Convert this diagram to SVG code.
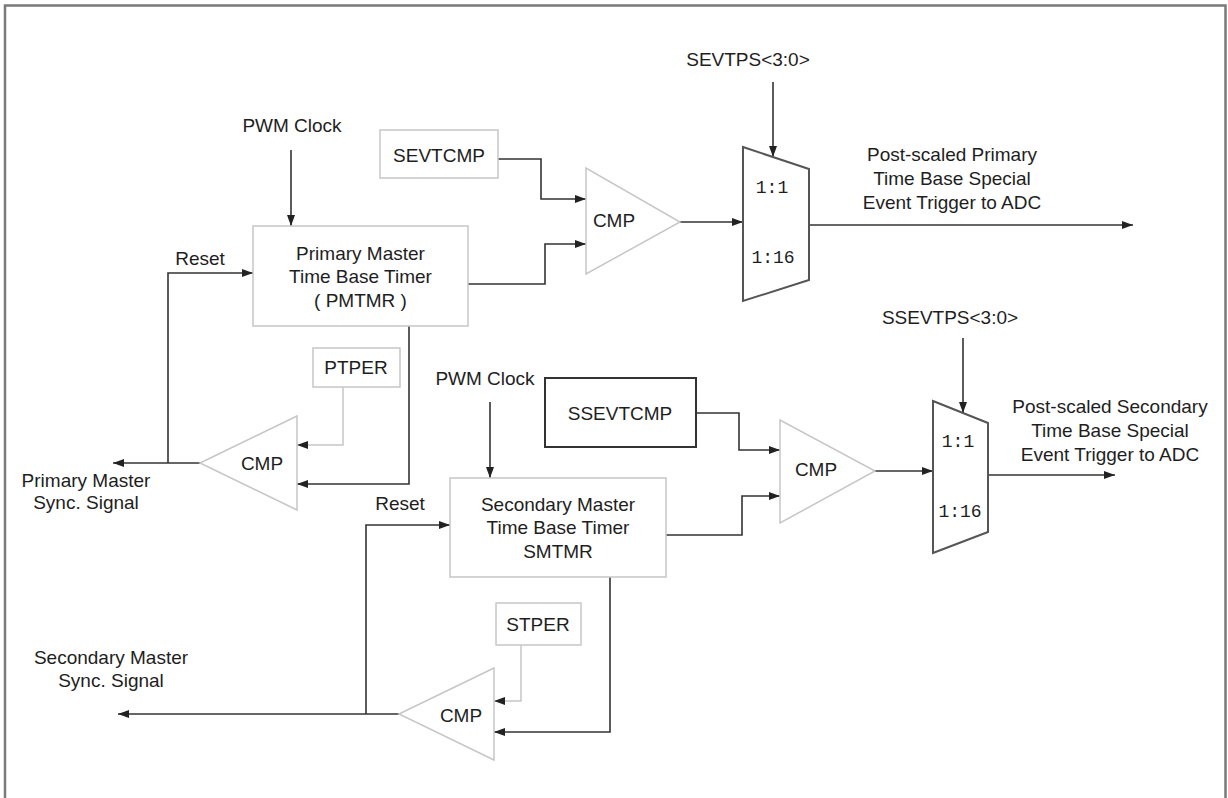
<svg xmlns="http://www.w3.org/2000/svg" width="1228" height="798" viewBox="0 0 1228 798">
<defs>
<marker id="arr" markerUnits="userSpaceOnUse" markerWidth="11" markerHeight="8" refX="11" refY="4" orient="auto">
<path d="M0,0 L11,4 L0,8 z" fill="#222"/>
</marker>
<style>
text{font-family:"Liberation Sans",Arial,sans-serif;font-size:19px;fill:#1e1e1e}
.c{text-anchor:middle}
.mono{font-family:"Liberation Mono","Courier New",monospace;font-size:18px;text-anchor:middle}
.box{fill:#fff;stroke:#c6c6c6;stroke-width:1.5}
.dbox{fill:#fff;stroke:#333;stroke-width:2}
.tri{fill:#fff;stroke:#c6c6c6;stroke-width:1.5}
.mux{fill:#fff;stroke:#555;stroke-width:2}
.w{fill:none;stroke:#333;stroke-width:1.6}
.lw{fill:none;stroke:#c6c6c6;stroke-width:1.5}
</style>
</defs>
<rect width="1228" height="798" fill="#fff"/>
<rect x="5" y="5.5" width="1220.5" height="800" fill="none" stroke="#7a7a7a" stroke-width="2.5"/>

<g id="connectors">
<!-- primary -->
<path class="w" d="M291,150 V226" marker-end="url(#arr)"/>
<path class="w" d="M498,159 H541 V199 H586" marker-end="url(#arr)"/>
<path class="w" d="M468,284 H545 V244 H586" marker-end="url(#arr)"/>
<path class="w" d="M680,222 H743" marker-end="url(#arr)"/>
<path class="w" d="M773,82 V157" marker-end="url(#arr)"/>
<path class="w" d="M809,225 H1133" marker-end="url(#arr)"/>
<path class="w" d="M168,463 V273 H253" marker-end="url(#arr)"/>
<path class="w" d="M200,463 H113" marker-end="url(#arr)"/>
<path class="lw" d="M343,387 V445 H297" marker-end="url(#arr)"/>
<path class="w" d="M409,326 V484 H297" marker-end="url(#arr)"/>
<!-- secondary -->
<path class="w" d="M490,402 V478" marker-end="url(#arr)"/>
<path class="w" d="M696,413 H739 V450 H780" marker-end="url(#arr)"/>
<path class="w" d="M666,535 H742 V496 H780" marker-end="url(#arr)"/>
<path class="w" d="M875,471 H933" marker-end="url(#arr)"/>
<path class="w" d="M963,338 V413" marker-end="url(#arr)"/>
<path class="w" d="M988,475 H1115" marker-end="url(#arr)"/>
<path class="w" d="M366,714 V525 H450" marker-end="url(#arr)"/>
<path class="w" d="M399,714 H118" marker-end="url(#arr)"/>
<path class="lw" d="M521,645 V701 H494" marker-end="url(#arr)"/>
<path class="w" d="M610,577 V732 H494" marker-end="url(#arr)"/>
</g>

<g id="pwm-clock-1"><text class="c" x="292" y="132">PWM Clock</text></g>
<g id="sevtcmp"><rect class="box" x="380" y="130" width="118" height="48"/><text class="c" x="439" y="162">SEVTCMP</text></g>
<g id="pmtmr"><rect class="box" x="253" y="226" width="215" height="100"/>
<text class="c" x="360.5" y="260">Primary Master</text>
<text class="c" x="360.5" y="283">Time Base Timer</text>
<text class="c" x="360.5" y="307">( PMTMR )</text></g>
<g id="cmp-1"><polygon class="tri" points="586,168 586,274 680,222"/><text class="c" x="614" y="227">CMP</text></g>
<g id="mux-1"><polygon class="mux" points="743,147 809,169 809,280 743,301"/>
<text class="mono" x="772" y="193">1:1</text><text class="mono" x="773" y="263">1:16</text></g>
<g id="sevtps"><text class="c" x="748" y="66">SEVTPS&lt;3:0&gt;</text></g>
<g id="out-1"><text class="c" x="952" y="161">Post-scaled Primary</text><text class="c" x="952" y="185">Time Base Special</text><text class="c" x="952" y="209">Event Trigger to ADC</text></g>
<g id="reset-1"><text class="c" x="200" y="265">Reset</text></g>
<g id="ptper"><rect class="box" x="313" y="348" width="87" height="39"/><text class="c" x="356" y="374">PTPER</text></g>
<g id="cmp-p"><polygon class="tri" points="200,463 297,416 297,510"/><text class="c" x="262" y="470">CMP</text></g>
<g id="sync-1"><text class="c" x="86" y="487">Primary Master</text><text class="c" x="86" y="509">Sync. Signal</text></g>

<g id="pwm-clock-2"><text class="c" x="485" y="385">PWM Clock</text></g>
<g id="ssevtcmp"><rect class="dbox" x="545" y="378" width="151" height="69"/><text class="c" x="620" y="420">SSEVTCMP</text></g>
<g id="smtmr"><rect class="box" x="450" y="478" width="216" height="99"/>
<text class="c" x="558" y="511">Secondary Master</text>
<text class="c" x="558" y="534">Time Base Timer</text>
<text class="c" x="558" y="558">SMTMR</text></g>
<g id="cmp-2"><polygon class="tri" points="780,420 780,523 875,471"/><text class="c" x="816" y="476">CMP</text></g>
<g id="mux-2"><polygon class="mux" points="933,401 988,423 988,532 933,553"/>
<text class="mono" x="958" y="447">1:1</text><text class="mono" x="960" y="517">1:16</text></g>
<g id="ssevtps"><text class="c" x="950" y="324">SSEVTPS&lt;3:0&gt;</text></g>
<g id="out-2"><text class="c" x="1110" y="413">Post-scaled Secondary</text><text class="c" x="1110" y="437">Time Base Special</text><text class="c" x="1110" y="461">Event Trigger to ADC</text></g>
<g id="reset-2"><text class="c" x="400" y="510">Reset</text></g>
<g id="stper"><rect class="box" x="496" y="603" width="85" height="42"/><text class="c" x="538" y="631">STPER</text></g>
<g id="cmp-s"><polygon class="tri" points="399,714 494,668 494,760"/><text class="c" x="461" y="722">CMP</text></g>
<g id="sync-2"><text class="c" x="111" y="664">Secondary Master</text><text class="c" x="111" y="687">Sync. Signal</text></g>
</svg>
